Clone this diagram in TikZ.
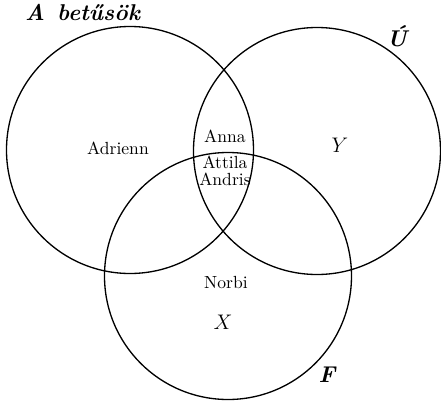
\documentclass[tikz,border=0pt]{standalone}
\usepackage{tikz}
\usetikzlibrary{positioning, calc}
\tikzset{
  halmaz/.style={draw, line width=0.75pt},
  nev/.style={font=\normalsize, inner sep=1pt, align=center},
  jel/.style={font=\fontsize{13}{15}\selectfont\bfseries\itshape, inner sep=1pt},
  betu/.style={font=\large, inner sep=1pt}
}

\begin{document}
\begin{tikzpicture}[x=0.02cm, y=-0.02cm]
	\useasboundingbox (0,0) rectangle (441,403);
	% the three sets
	\coordinate (a) at (130,150);
	\coordinate (u) at (317,151);
	\coordinate (f) at (228,276);
	\foreach \c in {a, u, f} { \draw[halmaz] (\c) circle (123.5*0.02cm); }
	% set names
	\node[jel, anchor=base west] (la) at (23,20) {A\hspace{7pt}betűsök};
	\node[jel] (lu) at (397,36) {Ú};
	\node[jel] (lf) at (327,375) {F};
	% members
	\node[nev] (adrienn) at (118,148) {Adrienn};
	\node[nev] (anna) at (225,136) {Anna};
	\node[nev] (attila) at (225,171) {Attila\\[-2.5pt]Andris};
	\node[nev] (norbi) at (226,282) {Norbi};
	\node[betu] (x) at (223,322) {$X$};
	\node[betu] (y) at (340,145) {$Y$};
\end{tikzpicture}
\end{document}
